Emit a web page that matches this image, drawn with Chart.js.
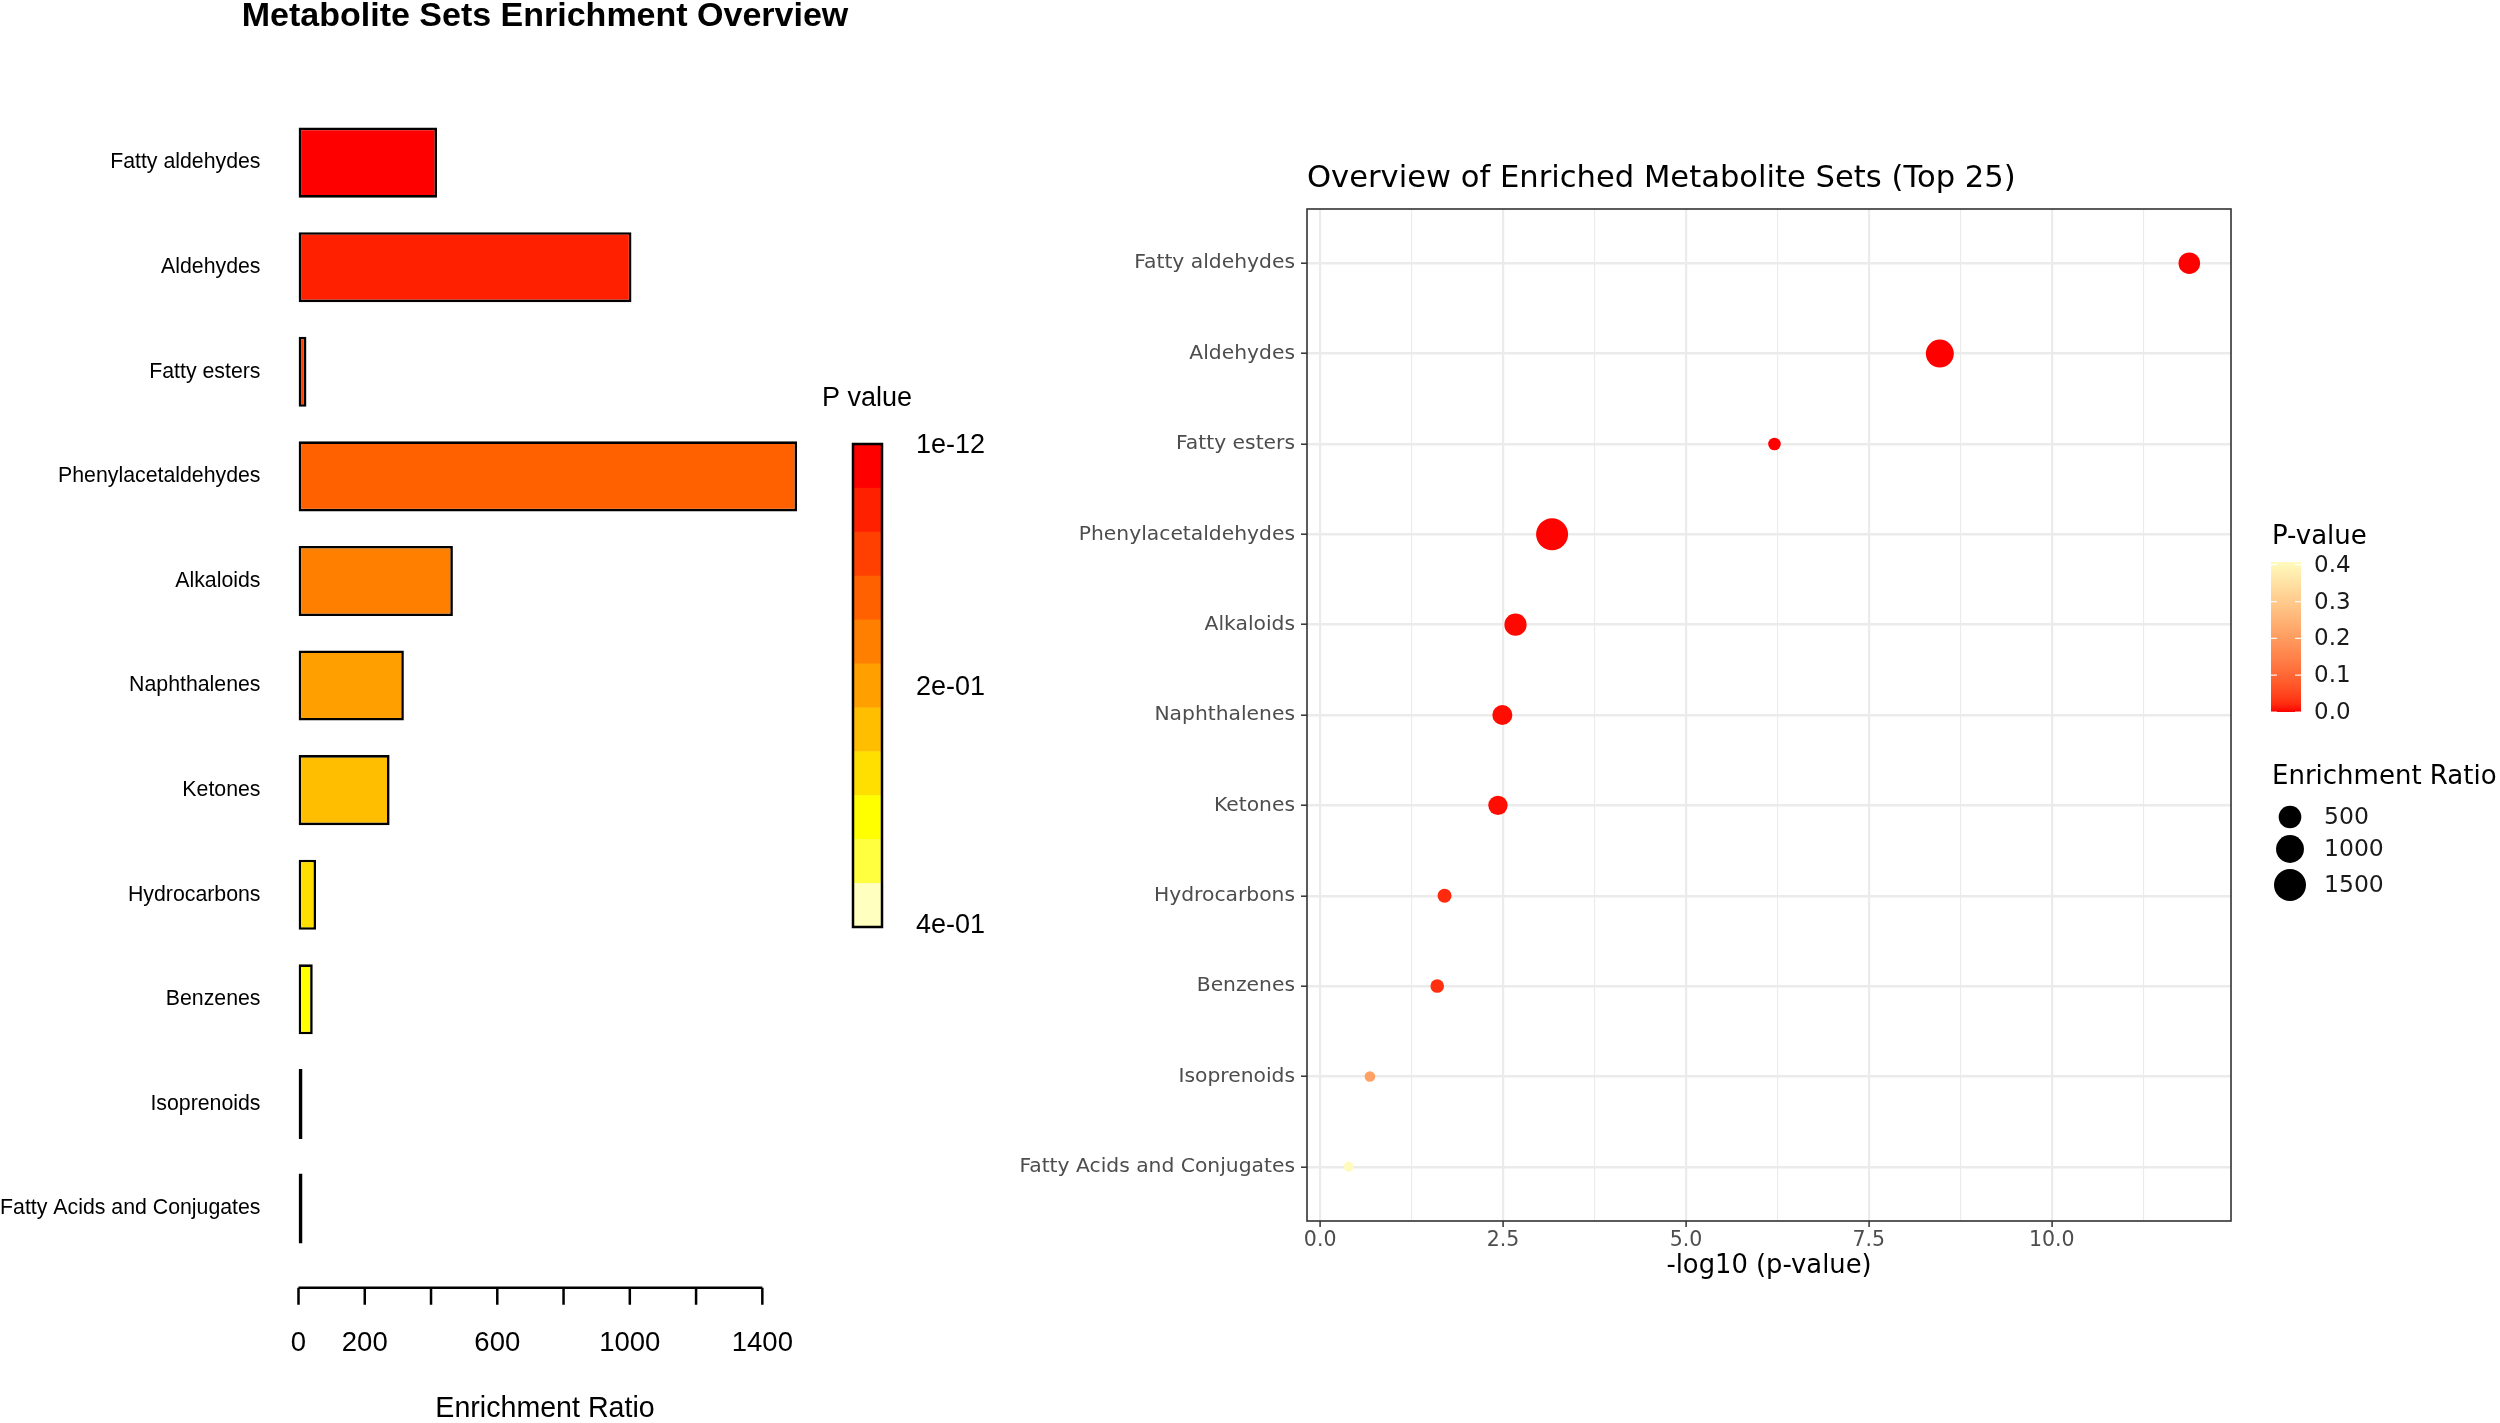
<!DOCTYPE html>
<html>
<head>
<meta charset="utf-8">
<title>Metabolite Sets Enrichment</title>
<script src="https://cdn.jsdelivr.net/npm/chart.js@4.4.1/dist/chart.umd.min.js"></script>
<style>
  body { margin: 0; background: #fff; }
  #left { position: absolute; left: 0; top: 0; }
  #right { position: absolute; left: 1000px; top: 0; }
</style>
</head>
<body>
<canvas id="left" width="1000" height="1423"></canvas>
<canvas id="right" width="1500" height="1423"></canvas>
<script>
// data
const categories = [
  "Fatty aldehydes", "Aldehydes", "Fatty esters", "Phenylacetaldehydes", "Alkaloids",
  "Naphthalenes", "Ketones", "Hydrocarbons", "Benzenes", "Isoprenoids", "Fatty Acids and Conjugates"
];
const enrichmentRatio = [418, 1005, 24, 1505, 466, 318, 275, 53, 43, 4, 3];
const negLog10P = [11.88, 8.47, 6.21, 3.17, 2.67, 2.49, 2.43, 1.70, 1.60, 0.68, 0.39];

const barTicks = [0, 200, 400, 600, 800, 1000, 1200, 1400];
const barTickLabels = ["0", "200", "600", "1000", "1400"];
const pKeyLabels = ["1e-12", "2e-01", "4e-01"];
const dotTicks = [0, 2.5, 5, 7.5, 10];
const pLegendTicks = [0, 0.1, 0.2, 0.3, 0.4];
const sizeLegend = [500, 1000, 1500];

// R heat.colors(11), one per bar in p-value order
const heatColors = ["#FF0000", "#FF2000", "#FF4000", "#FF6000", "#FF8000", "#FF9F00",
  "#FFBF00", "#FFDF00", "#FFFF00", "#FFFF40", "#FFFFBF"];

const LEFT_FONT = "Liberation Sans";
const GG_FONT = "DejaVu Sans";

// ---- colour / size helpers for the ggplot panel ----
const pValues = negLog10P.map(v => Math.pow(10, -v));
const pMin = Math.min(...pValues), pMax = Math.max(...pValues);
const erMin = Math.min(...enrichmentRatio), erMax = Math.max(...enrichmentRatio);

function hexRgb(h) {
  return [parseInt(h.slice(1, 3), 16), parseInt(h.slice(3, 5), 16), parseInt(h.slice(5, 7), 16)];
}
function toLab(rgb) {
  const lin = c => { c /= 255; return c <= 0.04045 ? c / 12.92 : Math.pow((c + 0.055) / 1.055, 2.4); };
  const [r, g, b] = rgb.map(lin);
  const x = (r * 0.4124 + g * 0.3576 + b * 0.1805) / 0.95047;
  const y = r * 0.2126 + g * 0.7152 + b * 0.0722;
  const z = (r * 0.0193 + g * 0.1192 + b * 0.9505) / 1.08883;
  const f = t => t > 0.008856 ? Math.cbrt(t) : 7.787 * t + 16 / 116;
  return [116 * f(y) - 16, 500 * (f(x) - f(y)), 200 * (f(y) - f(z))];
}
function fromLab(lab) {
  const fy = (lab[0] + 16) / 116, fx = fy + lab[1] / 500, fz = fy - lab[2] / 200;
  const inv = t => t * t * t > 0.008856 ? t * t * t : (t - 16 / 116) / 7.787;
  const x = inv(fx) * 0.95047, y = inv(fy), z = inv(fz) * 1.08883;
  const out = c => {
    const v = c <= 0.0031308 ? 12.92 * c : 1.055 * Math.pow(c, 1 / 2.4) - 0.055;
    return Math.round(Math.max(0, Math.min(1, v)) * 255);
  };
  return "rgb(" + out(3.2406 * x - 1.5372 * y - 0.4986 * z) + "," +
    out(-0.9689 * x + 1.8758 * y + 0.0415 * z) + "," +
    out(0.0557 * x - 0.2040 * y + 1.0570 * z) + ")";
}
const labLow = toLab(hexRgb("#FF0000"));
const labHigh = toLab(hexRgb("#FFFBBE"));
function pColor(p) {
  const t = Math.max(0, Math.min(1, (p - pMin) / (pMax - pMin)));
  return fromLab(labLow.map((v, i) => v + (labHigh[i] - v) * t));
}
function dotRadius(v) {
  return 5 + 11 * Math.sqrt((v - erMin) / (erMax - erMin));
}

// ---- left panel: barplot + heat colour key ----
const leftDecor = {
  id: "leftDecor",
  afterDraw(chart) {
    const ctx = chart.ctx;
    const x = chart.scales.x;
    ctx.save();
    ctx.fillStyle = "#000";
    ctx.font = "bold 34px '" + LEFT_FONT + "'";
    ctx.textAlign = "center";
    ctx.textBaseline = "middle";
    ctx.fillText("Metabolite Sets Enrichment Overview", 545, 17);
    ctx.font = "28.6px '" + LEFT_FONT + "'";
    ctx.fillText("Enrichment Ratio", 545, 1409);

    // axis line with ticks, drawn like R's axis()
    const ay = chart.chartArea.bottom + 27;
    ctx.strokeStyle = "#000";
    ctx.lineWidth = 2.5;
    ctx.beginPath();
    ctx.moveTo(x.getPixelForValue(barTicks[0]), ay);
    ctx.lineTo(x.getPixelForValue(barTicks[barTicks.length - 1]), ay);
    barTicks.forEach(t => {
      const px = x.getPixelForValue(t);
      ctx.moveTo(px, ay);
      ctx.lineTo(px, ay + 17);
    });
    ctx.stroke();

    // colour key
    const kx = 853, kw = 29, ktop = 444, kbot = 927;
    const seg = (kbot - ktop) / heatColors.length;
    heatColors.forEach((c, i) => {
      ctx.fillStyle = c;
      ctx.fillRect(kx, ktop + i * seg, kw, seg + 0.5);
    });
    ctx.strokeRect(kx, ktop, kw, kbot - ktop);
    ctx.fillStyle = "#000";
    ctx.font = "27px '" + LEFT_FONT + "'";
    ctx.textAlign = "left";
    ctx.fillText("P value", 822, 399);
    const ly = [ktop + 2, (ktop + kbot) / 2 + 2, kbot - 1];
    pKeyLabels.forEach((l, i) => ctx.fillText(l, 916, ly[i]));
    ctx.restore();
  }
};

new Chart(document.getElementById("left"), {
  type: "bar",
  data: {
    labels: categories,
    datasets: [{
      data: enrichmentRatio,
      backgroundColor: heatColors,
      borderColor: "#000",
      borderWidth: 2.6,
      borderSkipped: false,
      minBarLength: 4,
      barPercentage: 0.67,
      categoryPercentage: 1
    }]
  },
  options: {
    indexAxis: "y",
    responsive: false,
    animation: false,
    layout: { padding: { top: 110.3, right: 183, left: 0, bottom: 0 } },
    plugins: { legend: { display: false }, tooltip: { enabled: false } },
    scales: {
      x: {
        min: 0,
        max: 1565,
        afterFit: s => { s.height = 162.2; },
        afterBuildTicks: s => { s.ticks = barTicks.map(v => ({ value: v })); },
        grid: { display: false, drawTicks: false },
        border: { display: false },
        ticks: {
          autoSkip: false,
          maxRotation: 0,
          padding: 66,
          color: "#000",
          font: { family: LEFT_FONT, size: 27.5 },
          callback: v => barTickLabels.includes(String(v)) ? String(v) : ""
        }
      },
      y: {
        afterFit: s => { s.width = 298.5; },
        grid: { display: false, drawTicks: false },
        border: { display: false },
        ticks: { padding: 38, color: "#000", font: { family: LEFT_FONT, size: 21.3 } }
      }
    }
  },
  plugins: [leftDecor]
});

// ---- right panel: ggplot-style dot plot ----
const isMajor = v => dotTicks.some(t => Math.abs(t - v) < 1e-6);

const rightDecor = {
  id: "rightDecor",
  afterDraw(chart) {
    const ctx = chart.ctx;
    const a = chart.chartArea;
    ctx.save();
    ctx.strokeStyle = "#333333";
    ctx.lineWidth = 1.6;
    ctx.strokeRect(a.left, a.top, a.right - a.left, a.bottom - a.top);

    ctx.fillStyle = "#000";
    ctx.textAlign = "left";
    ctx.textBaseline = "middle";
    ctx.font = "30.6px '" + GG_FONT + "'";
    ctx.fillText("Overview of Enriched Metabolite Sets (Top 25)", a.left, 179);

    // colour bar legend
    const bx = 1271, bw = 30, btop = 562, bbot = 712;
    const grad = ctx.createLinearGradient(0, bbot, 0, btop);
    for (let i = 0; i <= 20; i++) {
      grad.addColorStop(i / 20, pColor(pMin + (pMax - pMin) * i / 20));
    }
    ctx.fillStyle = grad;
    ctx.fillRect(bx, btop, bw, bbot - btop);
    ctx.fillStyle = "#000";
    ctx.font = "26px '" + GG_FONT + "'";
    ctx.fillText("P-value", 1272, 537);
    ctx.font = "23px '" + GG_FONT + "'";
    ctx.fillStyle = "#1A1A1A";
    ctx.strokeStyle = "rgba(255,255,255,0.9)";
    ctx.lineWidth = 1.2;
    pLegendTicks.forEach(v => {
      const py = bbot - (v - pMin) / (pMax - pMin) * (bbot - btop);
      ctx.beginPath();
      ctx.moveTo(bx, py); ctx.lineTo(bx + 6, py);
      ctx.moveTo(bx + bw - 6, py); ctx.lineTo(bx + bw, py);
      ctx.stroke();
      ctx.fillText(v.toFixed(1), 1314, py + 1);
    });

    // size legend
    ctx.fillStyle = "#000";
    ctx.font = "26px '" + GG_FONT + "'";
    ctx.fillText("Enrichment Ratio", 1272, 777);
    ctx.font = "23.5px '" + GG_FONT + "'";
    const sy = [817, 849, 885];
    sizeLegend.forEach((v, i) => {
      ctx.fillStyle = "#000";
      ctx.beginPath();
      ctx.arc(1290, sy[i], dotRadius(v), 0, Math.PI * 2);
      ctx.fill();
      ctx.fillStyle = "#1A1A1A";
      ctx.fillText(String(v), 1324, sy[i] + 1);
    });
    ctx.restore();
  }
};

new Chart(document.getElementById("right"), {
  type: "scatter",
  data: {
    datasets: [{
      data: categories.map((c, i) => ({ x: negLog10P[i], y: i })),
      pointRadius: c => dotRadius(enrichmentRatio[c.dataIndex]),
      pointHoverRadius: c => dotRadius(enrichmentRatio[c.dataIndex]),
      backgroundColor: c => pColor(pValues[c.dataIndex]),
      borderWidth: 0
    }]
  },
  options: {
    responsive: false,
    animation: false,
    layout: { padding: { top: 209, right: 269, left: 0, bottom: 141.6 } },
    plugins: { legend: { display: false }, tooltip: { enabled: false } },
    scales: {
      x: {
        type: "linear",
        min: -0.18,
        max: 12.45,
        afterFit: s => { s.height = 60.4; },
        border: { display: false },
        grid: {
          color: "#EBEBEB",
          lineWidth: c => isMajor(c.tick.value) ? 2.2 : 1.1,
          tickLength: 6,
          tickWidth: 1.5,
          tickColor: c => isMajor(c.tick.value) ? "#333333" : "rgba(0,0,0,0)"
        },
        ticks: {
          stepSize: 1.25,
          includeBounds: false,
          autoSkip: false,
          maxRotation: 0,
          padding: 1,
          color: "#4D4D4D",
          font: { family: GG_FONT, size: 20.5 },
          callback: v => isMajor(v) ? v.toFixed(1) : ""
        },
        title: {
          display: true,
          text: "-log10 (p-value)",
          color: "#000",
          padding: 0,
          font: { family: GG_FONT, size: 25.8 }
        }
      },
      y: {
        type: "linear",
        min: -0.6,
        max: 10.6,
        reverse: true,
        afterFit: s => { s.width = 307; },
        border: { display: false },
        grid: { color: "#EBEBEB", lineWidth: 2.4, tickLength: 6, tickWidth: 1.5, tickColor: "#333333" },
        ticks: {
          stepSize: 1,
          includeBounds: false,
          autoSkip: false,
          padding: 6,
          color: "#4D4D4D",
          font: { family: GG_FONT, size: 20.3 },
          callback: v => categories[v]
        }
      }
    }
  },
  plugins: [rightDecor]
});
</script>
</body>
</html>
